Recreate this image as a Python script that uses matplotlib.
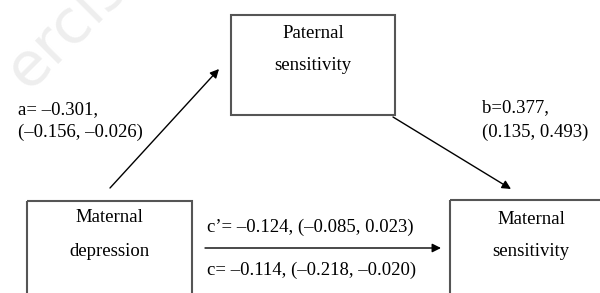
import matplotlib.pyplot as plt
from matplotlib.patches import Rectangle

# node labels
node_names = ['Maternal\ndepression', 'Paternal\nsensitivity', 'Maternal\nsensitivity']
# path labels
path_a = ['a= \u20130.301,', '(\u20130.156, \u20130.026)']
path_b = ['b=0.377,', '(0.135, 0.493)']
path_c_direct = 'c\u2019= \u20130.124, (\u20130.085, 0.023)'
path_c_total = 'c= \u20130.114, (\u20130.218, \u20130.020)'

W, H = 600, 293
fig = plt.figure(figsize=(6, 2.93), dpi=100)
ax = fig.add_axes([0, 0, 1, 1])
ax.set_xlim(0, W)
ax.set_ylim(H, 0)
ax.axis('off')

serif = ['Liberation Serif', 'DejaVu Serif']
fs = 13.5

# faint watermark
ax.text(-5, 100, 'ercise', rotation=45, fontsize=44, color='#eeeeee',
        family='DejaVu Sans', ha='left', va='bottom', zorder=0)

# boxes: (x0, y0, x1, y1) in pixel layout
boxes = [(27, 201, 192, 310), (231, 15, 395, 115), (450, 200, 612, 310)]
text_y = [(218, 252), (33, 66), (220, 252)]
for (x0, y0, x1, y1), name, (ya, yb) in zip(boxes, node_names, text_y):
    ax.add_patch(Rectangle((x0, y0), x1 - x0, y1 - y0, fill=False,
                           edgecolor='#555555', lw=1.5))
    cx = (x0 + x1) / 2 if x1 < W else 531
    l1, l2 = name.split('\n')
    ax.text(cx, ya, l1, ha='center', va='center', fontsize=fs, family=serif)
    ax.text(cx, yb, l2, ha='center', va='center', fontsize=fs, family=serif)

arrow = dict(arrowstyle='-|>', color='black', lw=1.0, mutation_scale=13,
             shrinkA=0, shrinkB=0)
# a path
ax.annotate('', xy=(219, 69), xytext=(110, 188), arrowprops=arrow)
# b path
ax.annotate('', xy=(511, 189), xytext=(393, 117), arrowprops=arrow)
# c path
ax.annotate('', xy=(441, 248), xytext=(205, 248), arrowprops=arrow)

ax.text(18, 110, path_a[0], ha='left', va='center', fontsize=fs, family=serif)
ax.text(18, 132, path_a[1], ha='left', va='center', fontsize=fs, family=serif)
ax.text(482, 108, path_b[0], ha='left', va='center', fontsize=fs, family=serif)
ax.text(482, 132, path_b[1], ha='left', va='center', fontsize=fs, family=serif)
ax.text(207, 227, path_c_direct, ha='left', va='center', fontsize=fs, family=serif)
ax.text(207, 270, path_c_total, ha='left', va='center', fontsize=fs, family=serif)

fig.savefig('out.png', dpi=100)
